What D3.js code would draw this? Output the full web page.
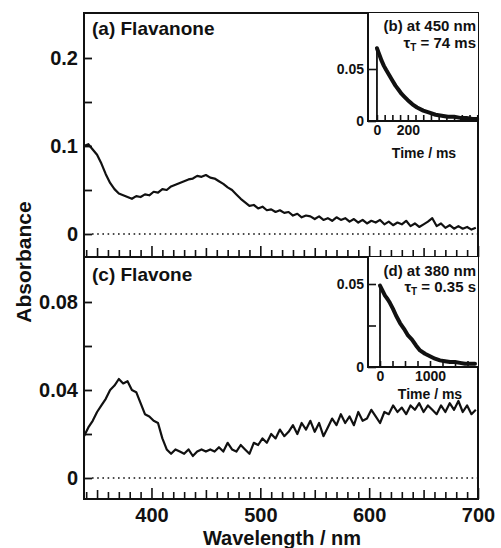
<!DOCTYPE html>
<html><head><meta charset="utf-8">
<script src="https://cdn.jsdelivr.net/npm/d3@7"></script>
<style>body{margin:0;background:#fff}text{font-family:"Liberation Sans",Arial,sans-serif;font-weight:bold;fill:#111}</style>
</head><body>
<script>
// ---- data ----
const wavelengths = d3.range(338, 702, 4); // nm sample grid (338..698)
const flavanoneAbs = [0.100,0.102,0.096,0.090,0.080,0.068,0.058,0.051,0.046,0.044,0.042,0.040,0.043,0.042,0.045,0.044,0.048,0.047,0.051,0.050,0.054,0.056,0.058,0.060,0.062,0.063,0.066,0.065,0.067,0.064,0.063,0.060,0.057,0.053,0.050,0.045,0.040,0.036,0.032,0.033,0.029,0.031,0.027,0.028,0.025,0.027,0.024,0.025,0.021,0.023,0.019,0.021,0.020,0.017,0.020,0.016,0.018,0.015,0.019,0.016,0.018,0.014,0.017,0.013,0.016,0.012,0.015,0.013,0.016,0.011,0.014,0.010,0.013,0.011,0.015,0.009,0.012,0.008,0.011,0.014,0.018,0.009,0.012,0.007,0.010,0.006,0.009,0.006,0.008,0.005,0.007];
const flavoneAbs = [0.019,0.023,0.026,0.030,0.033,0.036,0.040,0.042,0.045,0.043,0.044,0.040,0.039,0.034,0.029,0.028,0.026,0.025,0.018,0.013,0.011,0.013,0.012,0.011,0.013,0.010,0.012,0.013,0.012,0.013,0.012,0.014,0.012,0.016,0.013,0.012,0.015,0.013,0.011,0.016,0.015,0.018,0.016,0.020,0.018,0.022,0.019,0.021,0.024,0.020,0.025,0.022,0.026,0.021,0.025,0.019,0.023,0.027,0.024,0.029,0.025,0.028,0.024,0.030,0.026,0.027,0.031,0.028,0.025,0.030,0.029,0.033,0.030,0.032,0.029,0.033,0.031,0.034,0.030,0.033,0.031,0.029,0.033,0.030,0.034,0.031,0.035,0.030,0.033,0.029,0.031];
const decayBTime = [0,0,10,20,30,45,60,80,100,120,140,160,180,200,230,260,300,340,380,420,460,500,540,580,620,650];
const decayBAbs  = [0,0.070,0.066,0.062,0.058,0.053,0.049,0.044,0.039,0.034,0.030,0.026,0.023,0.020,0.016,0.013,0.010,0.008,0.006,0.005,0.004,0.004,0.003,0.003,0.002,0.002];
const decayDTime = [0,0,50,100,150,200,260,320,400,480,560,640,720,800,900,1000,1100,1200,1300,1400,1500,1600,1700,1800,1900];
const decayDAbs  = [0,0.049,0.046,0.043,0.041,0.0385,0.035,0.031,0.0265,0.023,0.019,0.0165,0.013,0.010,0.008,0.0065,0.005,0.004,0.0035,0.003,0.003,0.0025,0.002,0.002,0.002];
const xTickLabels = [400,500,600,700];
const topYLabels = [0,0.1,0.2];
const botYLabels = [0,0.04,0.08];

// ---- layout ----
const W=501,H=548, L=84, R=478, T=13, M=257, B=499;
const svg = d3.select("body").append("svg").attr("width",W).attr("height",H);
const x = d3.scaleLinear([338,700],[L,R]);
const yTop = d3.scaleLinear([0,0.2],[234,58]);
const yBot = d3.scaleLinear([0,0.08],[478,302]);

svg.append("defs").append("clipPath").attr("id","cTop").append("rect").attr("x",L).attr("y",T).attr("width",R-L).attr("height",M-T);
svg.select("defs").append("clipPath").attr("id","cBot").append("rect").attr("x",L).attr("y",M).attr("width",R-L).attr("height",B-M);

function fmt(d){ return d===0 ? "0" : String(d); }

function panel(yScale, yTicks, yLabels, yBase, clip, vals){
  svg.append("line").attr("x1",L+8).attr("x2",R).attr("y1",yScale(0)).attr("y2",yScale(0))
    .attr("stroke","#111").attr("stroke-width",1.6).attr("stroke-dasharray","1.6,3.6");
  const ya = svg.append("g").attr("transform",`translate(${L},0)`)
    .call(d3.axisLeft(yScale).tickValues(yTicks).tickSize(-8).tickPadding(6)
      .tickFormat(d => yLabels.some(v=>Math.abs(v-d)<1e-9) ? fmt(d) : ""));
  ya.select(".domain").remove();
  ya.selectAll("line").attr("stroke","#111").attr("stroke-width",1.8);
  ya.selectAll("text").style("font-size","20px").attr("fill","#111");
  const xa = svg.append("g").attr("transform",`translate(0,${yBase})`)
    .call(d3.axisBottom(x).tickValues(d3.range(340,701,10)).tickSize(-7).tickPadding(9)
      .tickFormat(d => (yBase===B && xTickLabels.includes(d)) ? d : ""));
  xa.select(".domain").remove();
  xa.selectAll("line").attr("stroke","#111").attr("stroke-width",1.6)
    .attr("y2", d => d%100===0 ? -11 : (d%50===0 ? -9 : -7));
  xa.selectAll("text").style("font-size","20px").attr("fill","#111");
  const line = d3.line().x((d,i)=>x(wavelengths[i])).y(d=>yScale(d));
  svg.append("path").datum(vals).attr("d",line).attr("clip-path",`url(#${clip})`)
    .attr("fill","none").attr("stroke","#111").attr("stroke-width",2.2).attr("stroke-linejoin","round");
}
panel(yTop,[0,0.05,0.1,0.15,0.2],topYLabels,M,"cTop",flavanoneAbs);
panel(yBot,[0,0.02,0.04,0.06,0.08],botYLabels,B,"cBot",flavoneAbs);

svg.append("rect").attr("x",L).attr("y",T).attr("width",R-L).attr("height",B-T)
  .attr("fill","none").attr("stroke","#111").attr("stroke-width",2);
svg.append("line").attr("x1",L).attr("x2",R).attr("y1",M).attr("y2",M).attr("stroke","#111").attr("stroke-width",2);

svg.append("text").attr("x",92).attr("y",35).style("font-size","19px").text("(a) Flavanone");
svg.append("text").attr("x",92).attr("y",281).style("font-size","19px").text("(c) Flavone");
svg.append("text").attr("transform","translate(31,262) rotate(-90)").attr("text-anchor","middle").style("font-size","21px").text("Absorbance");
svg.append("text").attr("x",282).attr("y",545).attr("text-anchor","middle").style("font-size","20px").text("Wavelength / nm");

function inset(cfg){
  const xs = d3.scaleLinear(cfg.xDom,[368,R]);
  const ys = d3.scaleLinear([0,0.05],cfg.yRange);
  const top = cfg.top, bot = cfg.yRange[0];
  svg.append("rect").attr("x",368).attr("y",top).attr("width",R-368).attr("height",bot-top).attr("fill","#fff");
  const ya = svg.append("g").attr("transform","translate(368,0)")
    .call(d3.axisLeft(ys).tickValues(cfg.yTicks).tickSize(-8).tickPadding(4)
      .tickFormat(d => d===0 ? "0" : (Math.abs(d-0.05)<1e-9 ? "0.05" : "")));
  ya.select(".domain").remove();
  ya.selectAll("line").attr("stroke","#111").attr("stroke-width",1.6);
  ya.selectAll("text").style("font-size","14px").attr("fill","#111");
  const xa = svg.append("g").attr("transform",`translate(0,${bot})`)
    .call(d3.axisBottom(xs).tickValues(cfg.xTicks).tickSize(-6).tickPadding(4)
      .tickFormat(d => cfg.xLabels.includes(d) ? d : ""));
  xa.select(".domain").remove();
  xa.selectAll("line").attr("stroke","#111").attr("stroke-width",1.6);
  xa.selectAll("text").style("font-size","14px").attr("fill","#111");
  svg.append("path").attr("d",`M368,${top}V${bot}H${R}`).attr("fill","none").attr("stroke","#111").attr("stroke-width",2);
  const ln = d3.line().x((d,i)=>xs(cfg.t[i])).y(d=>ys(d));
  svg.append("path").datum(cfg.v).attr("d",ln).attr("fill","none").attr("stroke","#111")
    .attr("stroke-width",1.8).attr("stroke-linejoin","round");
  svg.append("path").datum(cfg.v.slice(1)).attr("d",d3.line().x((d,i)=>xs(cfg.t[i+1])).y(d=>ys(d)))
    .attr("fill","none").attr("stroke","#111").attr("stroke-width",4).attr("stroke-linejoin","round").attr("stroke-linecap","round");
  svg.append("text").attr("x",476).attr("y",cfg.ly1).attr("text-anchor","end").style("font-size","15px").text(cfg.title);
  const tt = svg.append("text").attr("x",476).attr("y",cfg.ly2).attr("text-anchor","end").style("font-size","15px");
  tt.append("tspan").text("τ");
  tt.append("tspan").attr("dy",3).style("font-size","10px").text("T");
  tt.append("tspan").attr("dy",-3).text(" = " + cfg.tau);
  svg.append("text").attr("x",cfg.tx).attr("y",cfg.ty).attr("text-anchor","middle").style("font-size","14px").text("Time / ms");
}
inset({xDom:[-58,655], yRange:[121,69], top:T, yTicks:[0,0.05], xTicks:d3.range(0,651,50), xLabels:[0,200],
  t:decayBTime, v:decayBAbs, title:"(b) at 450 nm", tau:"74 ms", ly1:31, ly2:48, tx:424, ty:158});
inset({xDom:[-240,1960], yRange:[367,284], top:M, yTicks:[0,0.025,0.05], xTicks:d3.range(0,1951,250), xLabels:[0,1000],
  t:decayDTime, v:decayDAbs, title:"(d) at 380 nm", tau:"0.35 s", ly1:276, ly2:292, tx:430, ty:399});
</script>
</body></html>
